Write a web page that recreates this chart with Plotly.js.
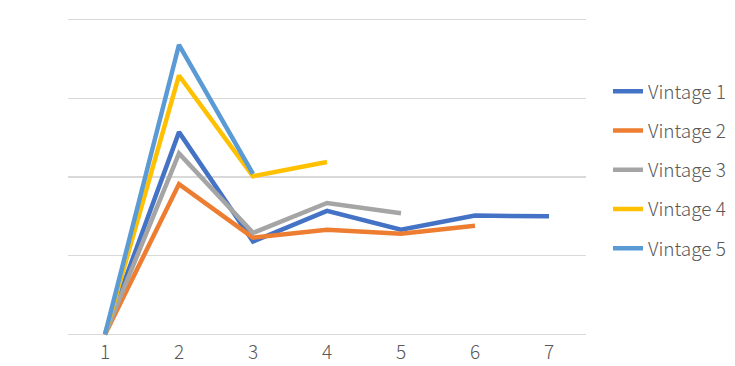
<!DOCTYPE html>
<html>
<head>
<meta charset="utf-8">
<script src="https://cdn.plot.ly/plotly-3.0.1.min.js"></script>
<style>html,body{margin:0;padding:0;background:#fff;}#chart{width:735px;height:366px;}</style>
</head>
<body>
<div id="chart"></div>
<script>
const periods = [1, 2, 3, 4, 5, 6, 7];
const seriesNames = ["Vintage 1", "Vintage 2", "Vintage 3", "Vintage 4", "Vintage 5"];
const vintage1 = [0, 2.57, 1.18, 1.57, 1.33, 1.51, 1.50];
const vintage2 = [0, 1.91, 1.23, 1.33, 1.28, 1.38];
const vintage3 = [0, 2.30, 1.29, 1.67, 1.54];
const vintage4 = [0, 3.29, 2.01, 2.19];
const vintage5 = [0, 3.68, 2.04];
const colors = ["#4472C4", "#ED7D31", "#A5A5A5", "#FFC000", "#5B9BD5"];

const allSeries = [vintage1, vintage2, vintage3, vintage4, vintage5];
const traces = allSeries.map((vals, i) => ({
  type: "scatter",
  mode: "lines",
  name: seriesNames[i],
  legendgroup: "g" + i,
  x: periods.slice(0, vals.length),
  y: vals,
  line: {color: colors[i], width: 4.5},
  hoverinfo: "skip"
}));

const layout = {
  width: 735, height: 366,
  margin: {l: 68, r: 149, t: 18, b: 30, autoexpand: false},
  paper_bgcolor: "#fff", plot_bgcolor: "#fff",
  font: {family: "Noto Sans CJK SC, Noto Sans, sans-serif", color: "#595959", size: 19, weight: 300},
  showlegend: true,
  legend: {
    xref: "container", x: 0.8272, xanchor: "left",
    y: 0.522, yanchor: "middle",
    tracegroupgap: 11.5,
    font: {size: 19, color: "#595959", weight: 300},
    bgcolor: "rgba(0,0,0,0)"
  },
  xaxis: {
    range: [0.5, 7.5], tickvals: periods, ticktext: periods.map(String),
    showgrid: false, zeroline: false, showline: false, ticks: "",
    ticklabelstandoff: 3, automargin: false,
    tickfont: {size: 19, color: "#595959", weight: 300}, fixedrange: true
  },
  yaxis: {
    range: [-0.02, 4.02], tickvals: [0, 1, 2, 3, 4], showticklabels: false,
    showgrid: true, gridcolor: "#D9D9D9", gridwidth: 1.3, automargin: false,
    zeroline: false, showline: false, ticks: "", fixedrange: true
  }
};
Plotly.newPlot("chart", traces, layout, {displayModeBar: false, staticPlot: true});
</script>
</body>
</html>
